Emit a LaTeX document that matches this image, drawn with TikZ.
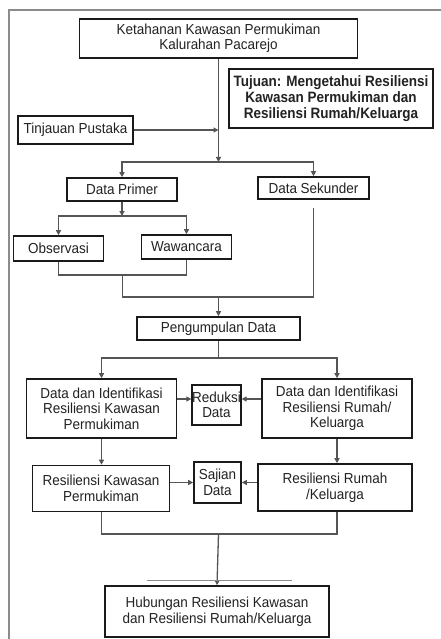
\documentclass[tikz,border=0pt]{standalone}
\usepackage{fontspec}
\setmainfont{Liberation Sans}[FakeStretch=0.93]
\newfontfamily\tujfont{Liberation Sans}[FakeStretch=0.9]
\usetikzlibrary{arrows.meta}
\definecolor{boxc}{HTML}{1A1A1A}
\definecolor{linec}{HTML}{555555}
\definecolor{framec}{HTML}{8C8C8C}
\definecolor{txt}{HTML}{222222}
\begin{document}
\begin{tikzpicture}[x=1pt,y=-1pt,
  box/.style={draw=boxc,line width=1.6pt,inner sep=0pt,align=center,text=txt,
    font=\fontsize{14.5}{15.5}\selectfont},
  conn/.style={draw=linec,line width=1.3pt},
  arr/.style={conn,-{Triangle[length=5pt,width=5pt]}}]
\useasboundingbox (0,0) rectangle (441,639);
\fill[white] (0,0) rectangle (441,639);
% outer frame
\draw[framec,line width=2pt] (441,10.5) -- (9,10.5) -- (9,639);

% nodes
\node[box,minimum width=278pt,minimum height=39pt] (top) at (218.5,38.5)
  {Ketahanan Kawasan Permukiman\\Kalurahan Pacarejo};
\node[box,minimum width=204pt,minimum height=59pt,font=\tujfont\fontsize{15}{16}\selectfont\bfseries] (tujuan) at (331,98.5)
  {Tujuan: Mengetahui Resiliensi\\Kawasan Permukiman dan\\Resiliensi Rumah/Keluarga};
\node[box,minimum width=115pt,minimum height=28pt] (tinjauan) at (75.5,130) {Tinjauan Pustaka};
\node[box,minimum width=110pt,minimum height=23pt] (primer) at (122,189.5) {Data Primer};
\node[box,minimum width=111pt,minimum height=22pt] (sekunder) at (313.5,188) {Data Sekunder};
\node[box,minimum width=90pt,minimum height=25pt] (obs) at (58.5,248.5) {Observasi};
\node[box,minimum width=90pt,minimum height=24pt] (waw) at (186.5,247) {Wawancara};
\node[box,minimum width=163pt,minimum height=23pt] (peng) at (218.5,328.5) {Pengumpulan Data};
\node[box,minimum width=150pt,minimum height=59pt] (di1) at (101.5,408.5)
  {Data dan Identifikasi\\Resiliensi Kawasan\\Permukiman};
\node[box,minimum width=47pt,minimum height=40pt] (reduksi) at (216.5,405) {Reduksi\\Data};
\node[box,minimum width=150pt,minimum height=59pt] (di2) at (337,408.5)
  {Data dan Identifikasi\\Resiliensi Rumah/\\Keluarga};
\node[box,minimum width=137pt,minimum height=46pt] (rk) at (101,488.5)
  {Resiliensi Kawasan\\Permukiman};
\node[box,minimum width=47pt,minimum height=41pt] (sajian) at (217.5,482.5) {Sajian\\Data};
\node[box,minimum width=154pt,minimum height=47pt] (rr) at (335,487.5)
  {Resiliensi Rumah\\/Keluarga};
\node[box,minimum width=224pt,minimum height=51pt] (hub) at (217,611.5)
  {Hubungan Resiliensi Kawasan\\dan Resiliensi Rumah/Keluarga};

% junction coordinates
\coordinate (j1) at (218.5,162);
\coordinate (j2) at (122,216);
\coordinate (j3) at (122.5,275);
\coordinate (j4) at (218.5,297);
\coordinate (j5) at (218.5,358);
\coordinate (j6) at (218.5,534);
\coordinate (tl) at (147,580);
\coordinate (tr) at (292,580);

% connectors
\draw[arr] (top.south) -- (j1);
\draw[arr] (tinjauan.east) -- (tinjauan.east -| top.south);
\draw[arr] (j1) -| (primer.north);
\draw[arr] (j1) -| (sekunder.north);
\draw[arr] (primer.south) -- (j2);
\draw[arr] (j2) -| (obs.north);
\draw[arr] (j2) -| (waw.north);
\draw[conn] (obs.south) |- (j3) -| (waw.south);
\draw[conn] (j3) |- (j4) -| ([yshift=-8pt]sekunder.south);
\draw[arr] (j4) -- (peng.north);
\draw[conn] (peng.south) -- (j5);
\draw[arr] (j5) -| (di1.north);
\draw[arr] (j5) -| (di2.north);
\draw[arr] ([yshift=9.5pt]di1.east) -- ([yshift=9.5pt]di1.east -| reduksi.west);
\draw[arr] ([yshift=9.5pt]di2.west) -- ([yshift=9.5pt]di2.west -| reduksi.east);
\draw[arr] (di1.south) -- (di1.south |- rk.north);
\draw[arr] (di2.south) -- (di2.south |- rr.north);
\draw[arr] ([yshift=6pt]rk.east) -- ([yshift=6pt]rk.east -| sajian.west);
\draw[arr] ([yshift=5pt]rr.west) -- ([yshift=5pt]rr.west -| sajian.east);
\draw[conn] (di1.south |- rk.south) |- (j6) -| (di2.south |- rr.south);
\draw[arr] (j6) -- (hub.north);
\draw[framec,line width=0.6pt] (tl) -- (tr);
\end{tikzpicture}
\end{document}
